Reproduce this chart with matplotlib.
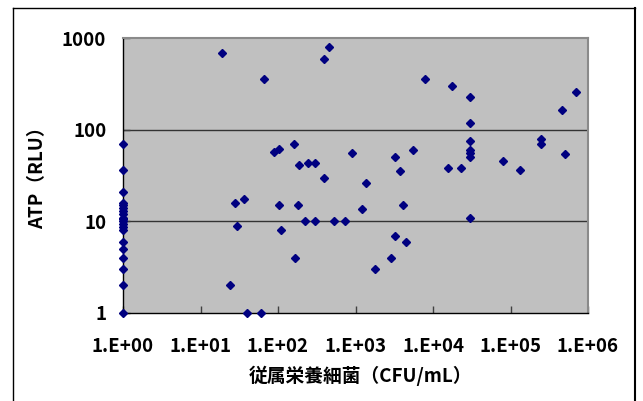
import matplotlib
matplotlib.use("Agg")
import matplotlib.pyplot as plt
from matplotlib.lines import Line2D

plt.rcParams["font.family"] = ["Noto Sans CJK JP", "DejaVu Sans"]

# samples at the detection floor (1 CFU/mL)
floor_atp = [70, 36, 21, 16, 15, 14, 13, 12, 11, 10.5, 10, 9.3, 8.6, 8, 6, 5, 4, 3, 2, 1]

cfu = [
    19, 66, 390, 450, 88, 102, 160, 186, 243, 302, 390,
    28, 36, 102, 180, 30, 108, 220, 302, 167, 24, 40, 61,
    7900, 17800, 30000, 30000, 460000, 690000, 900, 3200, 5600, 3700,
    15400, 23000, 30000, 30000, 30000, 30000, 80000, 134000, 250000, 250000, 500000,
    1350, 1200, 4100, 530, 730, 30000, 3200, 4500, 2900, 1800,
]
atp = [
    680, 360, 590, 790, 57, 61, 69, 41, 43, 43, 30,
    16, 17.5, 15, 15, 9, 8, 10, 10, 4, 2, 1, 1,
    360, 300, 230, 118, 163, 260, 55, 50, 60, 35,
    38, 38, 75, 60, 55, 50, 45, 36, 80, 69, 54,
    26, 13.6, 15, 10, 10, 11, 7, 6, 4, 3,
]

x_ticks = [1, 1e1, 1e2, 1e3, 1e4, 1e5, 1e6]
x_tick_labels = ["1.E+00", "1.E+01", "1.E+02", "1.E+03", "1.E+04", "1.E+05", "1.E+06"]
y_ticks = [1, 10, 100, 1000]
y_tick_labels = ["1", "10", "100", "1000"]

W, H = 643, 401
fig = plt.figure(figsize=(W / 100, H / 100), dpi=100)
ax = fig.add_axes([123 / W, 1 - 313 / H, (588 - 123) / W, (313 - 38) / H])
ax.set_facecolor("#c0c0c0")

ax.set_xscale("log")
ax.set_yscale("log")
ax.set_xlim(1, 1e6)
ax.set_ylim(1, 1000)

for g in (10, 100):
    ax.axhline(g, color="#333333", lw=1.0, zorder=1)

xs = [1] * len(floor_atp) + cfu
ys = floor_atp + atp
ax.plot(xs, ys, linestyle="none", marker="D", ms=4.5, color="#000080",
        clip_on=False, zorder=3)

ax.set_xticks(x_ticks)
ax.set_xticklabels(x_tick_labels)
ax.set_yticks(y_ticks)
ax.set_yticklabels(y_tick_labels)
ax.minorticks_off()
ax.tick_params(axis="x", direction="in", length=5, width=1, color="#404040", pad=17.5)
ax.tick_params(axis="y", direction="in", length=5, width=1, color="#404040", pad=12)
for lbl in ax.get_xticklabels() + ax.get_yticklabels():
    lbl.set_fontsize(13.5)
    lbl.set_fontweight("bold")

for side in ("left", "bottom"):
    ax.spines[side].set_color("black")
    ax.spines[side].set_linewidth(1.0)
for side in ("top", "right"):
    ax.spines[side].set_color("#8a8a8a")
    ax.spines[side].set_linewidth(1.5)

ax.set_xlabel("従属栄養細菌（CFU/mL）", fontsize=13.5, fontweight="bold")
ax.set_ylabel("ATP（RLU）", fontsize=13.5, fontweight="bold")
ax.xaxis.set_label_coords(360 / W, 1 - 376 / H, transform=fig.transFigure)
ax.yaxis.set_label_coords(38 / W, 1 - 173 / H, transform=fig.transFigure)
ax.xaxis.label.set_va("center")
ax.yaxis.label.set_va("center")

# chart-area frame
px = fig.transFigure
fig.add_artist(Line2D([13 / W, 13 / W], [0, 1 - 8 / H], color="black", lw=1.0, transform=px))
fig.add_artist(Line2D([13 / W, 635 / W], [1 - 8 / H, 1 - 8 / H], color="black", lw=1.0, transform=px))
fig.add_artist(Line2D([635 / W, 635 / W], [0, 1 - 8 / H], color="black", lw=1.5, transform=px))

fig.savefig("out.png", dpi=100)
